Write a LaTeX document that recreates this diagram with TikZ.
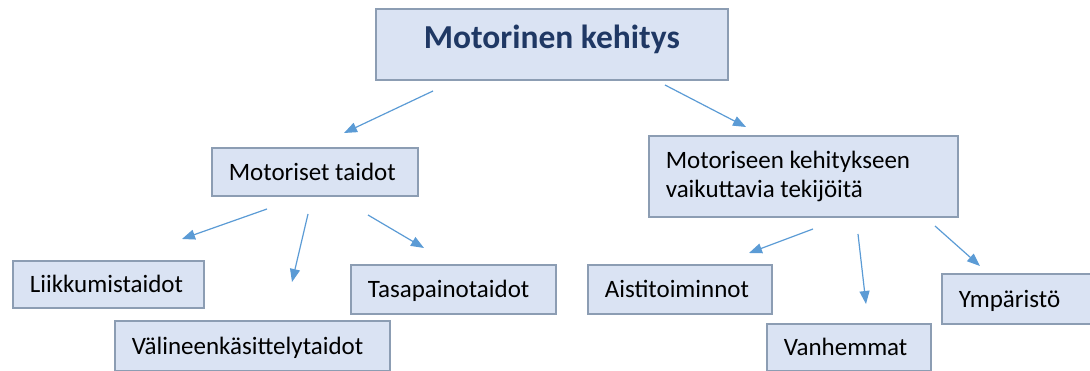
\documentclass[tikz,border=0pt]{standalone}
\usepackage{fontspec}
\setmainfont{Carlito}
\usetikzlibrary{arrows.meta}
\definecolor{boxfill}{HTML}{DAE3F3}
\definecolor{boxline}{HTML}{8C9DB3}
\definecolor{titlec}{HTML}{1F3864}
\definecolor{arrowc}{HTML}{5B9BD5}
\tikzset{
  box/.style={draw=boxline, fill=boxfill, line width=1.6pt, rectangle, inner xsep=17pt, inner ysep=0pt, anchor=north west, align=left, font=\fontsize{25}{29}\selectfont, text=black,
    execute at begin node={\spaceskip=0pt\xspaceskip=0pt}},
  oneline/.style={text height=17pt, text depth=0pt},
  link/.style={draw=arrowc, line width=1.2pt, -{Triangle[length=13pt,width=10pt]}}
}
\begin{document}
\begin{tikzpicture}[x=1pt,y=-1pt]
\useasboundingbox (0,0) rectangle (1090,371);
\clip (0,0) rectangle (1090,371);
% title
\node[draw=boxline, fill=boxfill, line width=1.6pt, rectangle, inner sep=0pt, anchor=north west,
      minimum width=352pt, minimum height=71pt, text height=22pt, text depth=13pt,
      font=\fontsize{33.5}{40}\selectfont\bfseries, text=titlec] (title) at (375,8) {Motorinen kehitys};
% level 2
\node[box, oneline, text width=206pt-34pt, minimum height=48pt] (mt) at (211,147) {Motoriset taidot};
\node[box, text width=309pt-34pt, minimum height=81pt] (mk) at (648,135) {Motoriseen kehitykseen\\vaikuttavia tekijöitä};
% level 3 left
\node[box, oneline, text width=191pt-34pt, minimum height=47pt] (lt) at (12,260) {Liikkumistaidot};
\node[box, oneline, text width=275pt-34pt, minimum height=50pt] (vt) at (114,320) {Välineenkäsittelytaidot};
\node[box, oneline, text width=205pt-34pt, minimum height=49pt] (tt) at (350,264) {Tasapainotaidot};
% level 3 right
\node[box, oneline, text width=184pt-34pt, minimum height=49pt] (ai) at (587,264) {Aistitoiminnot};
\node[box, oneline, text width=164pt-34pt, minimum height=47pt] (va) at (766,323) {Vanhemmat};
\node[box, oneline, text width=160pt-34pt, minimum height=50pt] (ym) at (941,273) {Ympäristö};
% arrow end points
\coordinate (a1s) at (433,91);  \coordinate (a1e) at (344,133);
\coordinate (a2s) at (665,85);  \coordinate (a2e) at (746,127);
\coordinate (b1s) at (267,209); \coordinate (b1e) at (182,239);
\coordinate (b2s) at (308,214); \coordinate (b2e) at (292,282);
\coordinate (b3s) at (368,215); \coordinate (b3e) at (424,248);
\coordinate (c1s) at (813,229); \coordinate (c1e) at (749,253);
\coordinate (c2s) at (858,234); \coordinate (c2e) at (866,304);
\coordinate (c3s) at (935,226); \coordinate (c3e) at (980,266);
\draw[link] (a1s) -- (a1e);
\draw[link] (a2s) -- (a2e);
\draw[link] (b1s) -- (b1e);
\draw[link] (b2s) -- (b2e);
\draw[link] (b3s) -- (b3e);
\draw[link] (c1s) -- (c1e);
\draw[link] (c2s) -- (c2e);
\draw[link] (c3s) -- (c3e);
\end{tikzpicture}
\end{document}
